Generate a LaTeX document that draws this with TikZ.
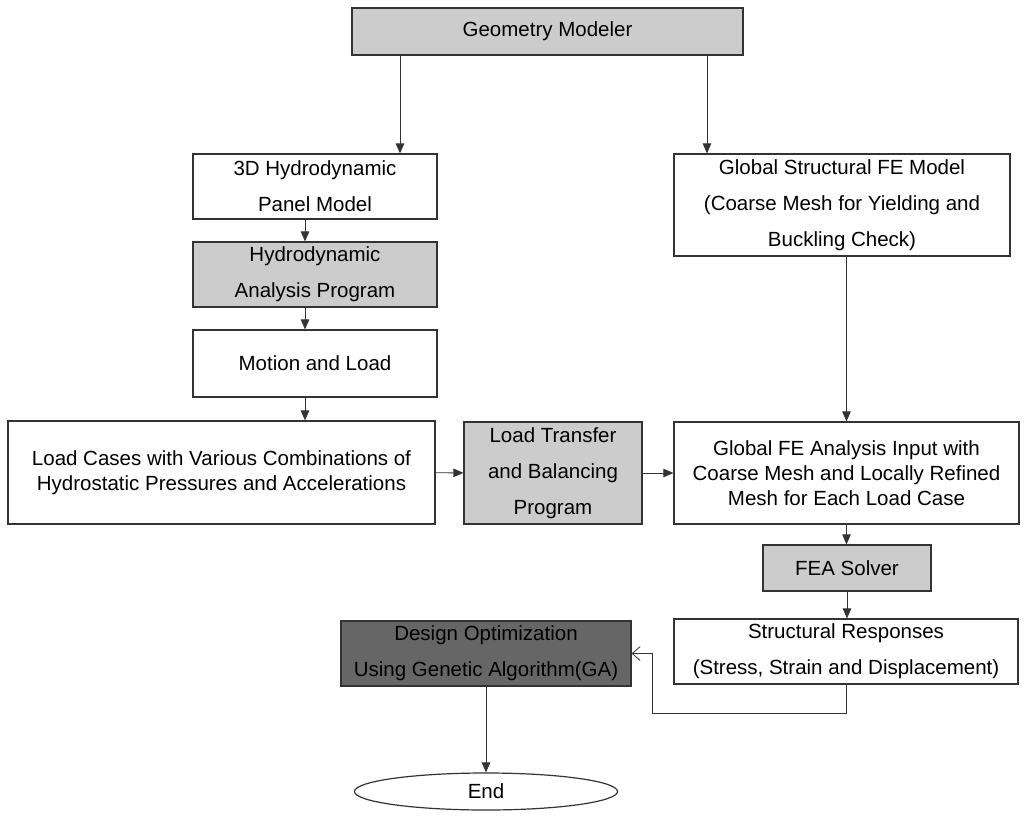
\documentclass[tikz,border=0pt]{standalone}
\usepackage{fontspec}
\setmainfont{Liberation Sans}
\usetikzlibrary{arrows.meta,shapes.geometric}

\begin{document}
\begin{tikzpicture}
[x=1pt,y=-1pt,
box/.style={draw=black!80,line width=1.2pt,fill=white,inner sep=0pt,align=center,font=\fontsize{20.5}{36}\selectfont},
tight/.style={font=\fontsize{20.5}{25}\selectfont},
grey/.style={box,fill=black!20},
dark/.style={box,fill=black!60},
arr/.style={draw=black!80,line width=0.8pt,-{Triangle[length=10pt,width=8.5pt]}},
fb/.style={draw=black!80,line width=0.8pt,-{Straight Barb[length=8pt,width=14pt]}}]
\useasboundingbox (0,0) rectangle (1026,820);
\node[grey,minimum width=391pt,minimum height=47pt] (geo) at (547.5,31.5) {Geometry Modeler};
\node[box,minimum width=244pt,minimum height=65pt] (panel) at (315,186.5) {3D Hydrodynamic\\Panel Model};
\node[grey,minimum width=244pt,minimum height=65pt] (hydro) at (315,274.5) {Hydrodynamic\\Analysis Program};
\node[box,minimum width=244pt,minimum height=67pt] (motion) at (315,363.5) {Motion and Load};
\node[box,tight,minimum width=427pt,minimum height=103pt] (cases) at (221.5,472.5) {Load Cases with Various Combinations of\\Hydrostatic Pressures and Accelerations};
\node[grey,minimum width=178pt,minimum height=102pt] (transfer) at (553,473) {Load Transfer\\and Balancing\\Program};
\node[box,minimum width=336pt,minimum height=102pt] (gstruct) at (842,205) {Global Structural FE Model\\(Coarse Mesh for Yielding and\\Buckling Check)};
\node[box,tight,minimum width=345pt,minimum height=102pt] (gfe) at (846.5,473) {Global FE Analysis Input with\\Coarse Mesh and Locally Refined\\Mesh for Each Load Case};
\node[grey,minimum width=168pt,minimum height=46pt] (solver) at (847,568) {FEA Solver};
\node[box,minimum width=344pt,minimum height=65pt] (resp) at (846,651.5) {Structural Responses\\(Stress, Strain and Displacement)};
\node[dark,minimum width=290pt,minimum height=65pt] (design) at (486,653.5) {Design Optimization\\Using Genetic Algorithm(GA)};
\node[ellipse,draw=black!80,line width=1.2pt,inner sep=0pt,minimum width=263pt,minimum height=37pt,font=\fontsize{20.5}{24}\selectfont] (stop) at (486,791.5) {End};
\coordinate (c1) at (652,713);
\draw[arr] ([xshift=-147.5pt]geo.south) -- ([xshift=-147.5pt]geo.south |- panel.north);
\draw[arr] ([xshift=159.5pt]geo.south) -- ([xshift=159.5pt]geo.south |- gstruct.north);
\foreach \from/\to in {panel/hydro,hydro/motion,motion/cases}
\draw[arr] ([xshift=-10pt]\from.south) -- ([xshift=-10pt]\from.south |- \to.north);
\draw[arr] (cases) -- (transfer);
\draw[arr] (transfer) -- (gfe);
\draw[arr] (gfe.north |- gstruct.south) -- (gfe.north);
\draw[arr] (gfe.south) -- (gfe.south |- solver.north);
\draw[arr] (solver) -- (solver |- resp.north);
\draw[fb] (resp.south) |- (c1) |- (design.east);
\draw[arr] (design) -- (stop);
\end{tikzpicture}
\end{document}
